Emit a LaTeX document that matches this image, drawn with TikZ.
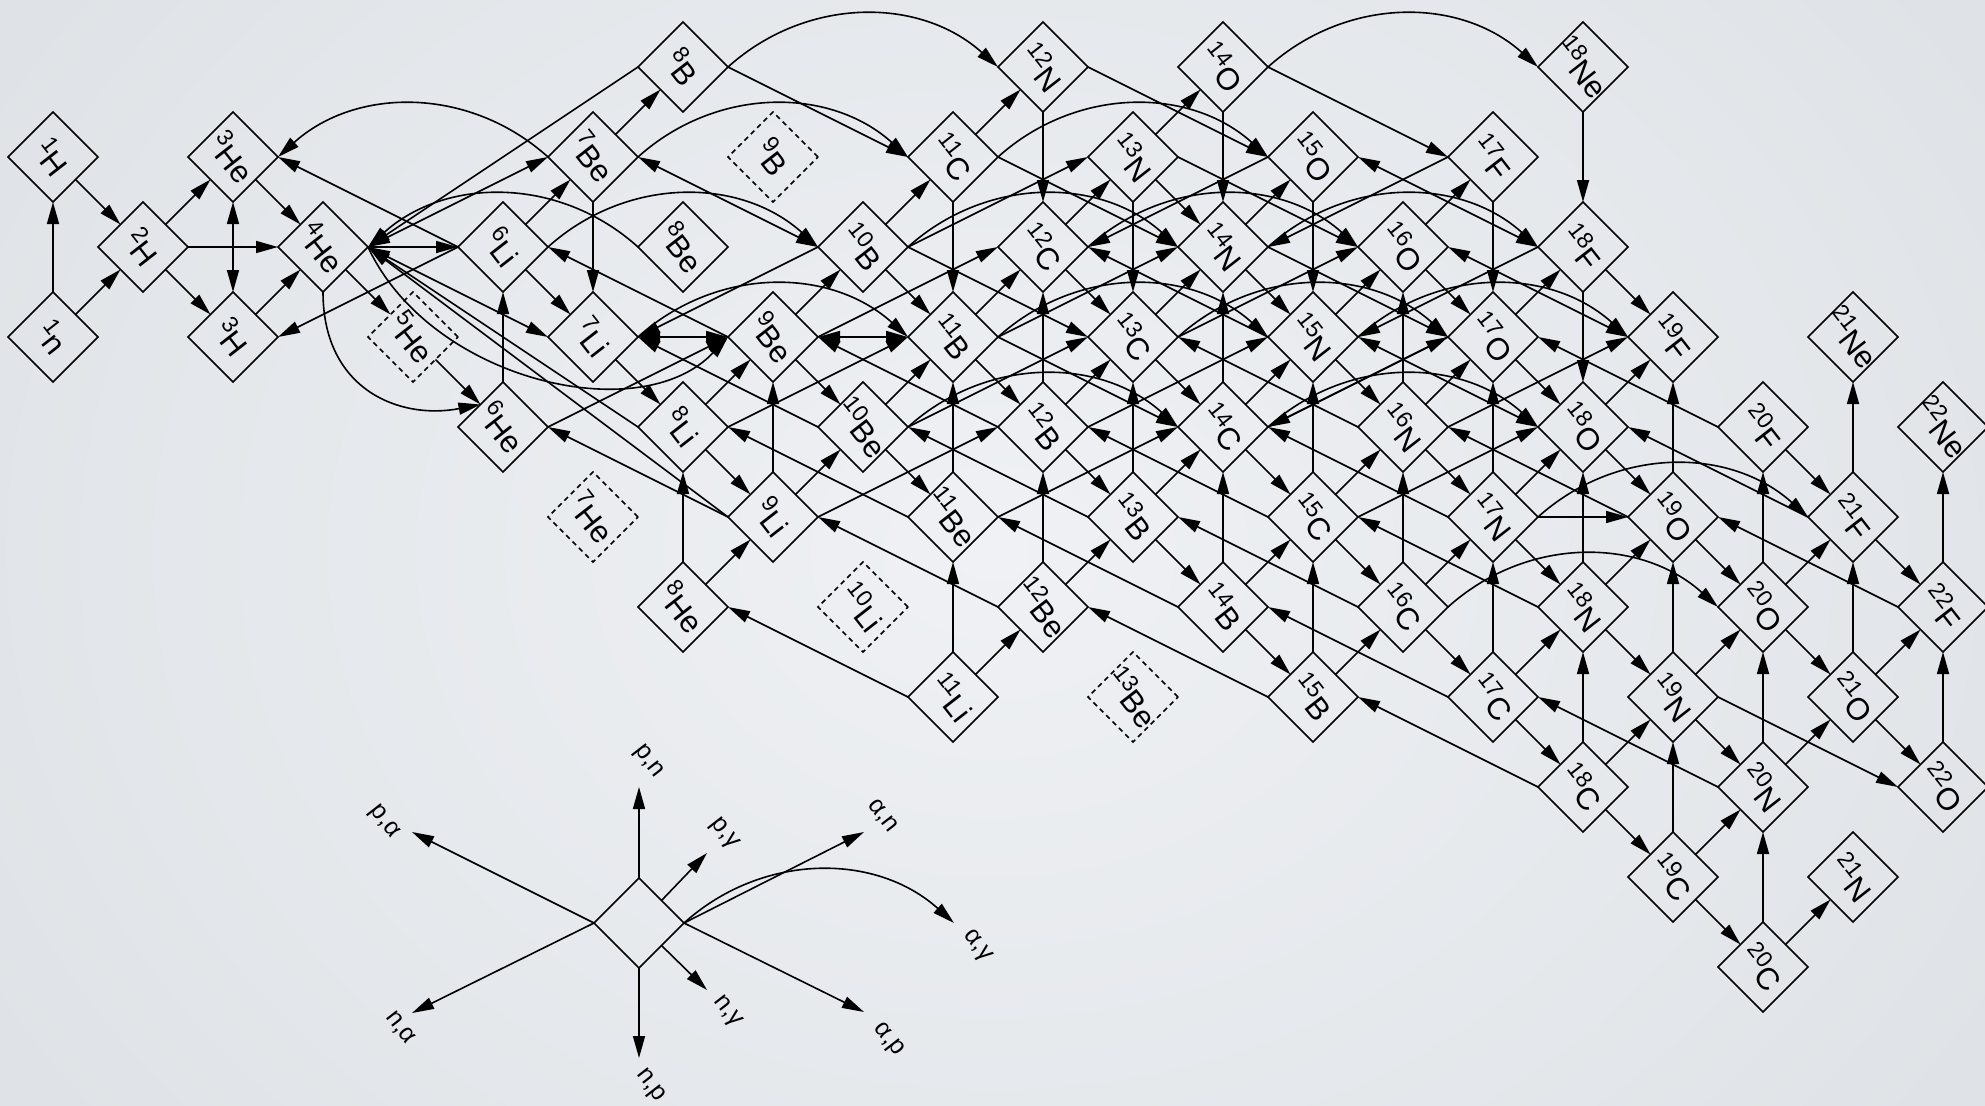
\documentclass[tikz,border=0pt]{standalone}
\usepackage{fontspec}
\setmainfont{Liberation Sans}
\usetikzlibrary{shapes.geometric,arrows.meta}
\pgfdeclarelayer{back}\pgfdeclarelayer{edges}
\pgfsetlayers{back,edges,main}
\definecolor{bgc}{RGB}{233,236,240}
\definecolor{bgin}{RGB}{239,241,244}
\definecolor{bgout}{RGB}{222,226,230}
\tikzset{
 nuc/.style={diamond, draw=black, line width=1.6pt, minimum width=90pt, minimum height=90pt, inner sep=0pt, outer sep=0pt},
 unst/.style={dash pattern=on 5pt off 4pt},
 lbl/.style={rotate=-52, font=\fontsize{31}{31}\selectfont, inner sep=0pt},
 arr/.style={line width=1.6pt, -{Triangle[length=22pt,width=12pt]}},
 darr/.style={line width=1.6pt, {Triangle[length=22pt,width=12pt]}-{Triangle[length=22pt,width=12pt]}},
 arc/.style={arr, bend left=42},
 legl/.style={rotate=-52, font=\fontsize{25}{25}\selectfont, inner sep=0pt},
}
\newcommand\sups[1]{\raisebox{0.40em}{\fontsize{23}{23}\selectfont #1}}
\newcommand\nuc[6][]{\node[nuc,#1,label={[lbl]center:{\sups{#5}#6}}] (#2) at ({53+90*(#3+#4-1)},{247-90*(#3-#4)}) {};}
\begin{document}
\begin{tikzpicture}[x=1pt,y=-1pt]
\useasboundingbox (0,0) rectangle (1985,1105);
\begin{pgfonlayer}{back}
\begin{scope}
\clip (0,0) rectangle (1985,1105);
\fill[bgc] (0,0) rectangle (1985,1105);
\shade[inner color=bgin, outer color=bgout] (-250,-450) rectangle (2235,1555);
\end{scope}
\end{pgfonlayer}
% nuclei
\nuc{n1}{0}{1}{1}{n}
\nuc{H1}{1}{0}{1}{H}
\nuc{H2}{1}{1}{2}{H}
\nuc{H3}{1}{2}{3}{H}
\nuc{He3}{2}{1}{3}{He}
\nuc{He4}{2}{2}{4}{He}
\nuc[unst]{He5}{2}{3}{5}{He}
\nuc{He6}{2}{4}{6}{He}
\nuc[unst]{He7}{2}{5}{7}{He}
\nuc{He8}{2}{6}{8}{He}
\nuc{Li6}{3}{3}{6}{Li}
\nuc{Li7}{3}{4}{7}{Li}
\nuc{Li8}{3}{5}{8}{Li}
\nuc{Li9}{3}{6}{9}{Li}
\nuc[unst]{Li10}{3}{7}{10}{Li}
\nuc{Li11}{3}{8}{11}{Li}
\nuc{Be7}{4}{3}{7}{Be}
\nuc{Be8}{4}{4}{8}{Be}
\nuc{Be9}{4}{5}{9}{Be}
\nuc{Be10}{4}{6}{10}{Be}
\nuc{Be11}{4}{7}{11}{Be}
\nuc{Be12}{4}{8}{12}{Be}
\nuc[unst]{Be13}{4}{9}{13}{Be}
\nuc{B8}{5}{3}{8}{B}
\nuc[unst]{B9}{5}{4}{9}{B}
\nuc{B10}{5}{5}{10}{B}
\nuc{B11}{5}{6}{11}{B}
\nuc{B12}{5}{7}{12}{B}
\nuc{B13}{5}{8}{13}{B}
\nuc{B14}{5}{9}{14}{B}
\nuc{B15}{5}{10}{15}{B}
\nuc{C11}{6}{5}{11}{C}
\nuc{C12}{6}{6}{12}{C}
\nuc{C13}{6}{7}{13}{C}
\nuc{C14}{6}{8}{14}{C}
\nuc{C15}{6}{9}{15}{C}
\nuc{C16}{6}{10}{16}{C}
\nuc{C17}{6}{11}{17}{C}
\nuc{C18}{6}{12}{18}{C}
\nuc{C19}{6}{13}{19}{C}
\nuc{C20}{6}{14}{20}{C}
\nuc{N12}{7}{5}{12}{N}
\nuc{N13}{7}{6}{13}{N}
\nuc{N14}{7}{7}{14}{N}
\nuc{N15}{7}{8}{15}{N}
\nuc{N16}{7}{9}{16}{N}
\nuc{N17}{7}{10}{17}{N}
\nuc{N18}{7}{11}{18}{N}
\nuc{N19}{7}{12}{19}{N}
\nuc{N20}{7}{13}{20}{N}
\nuc{N21}{7}{14}{21}{N}
\nuc{O14}{8}{6}{14}{O}
\nuc{O15}{8}{7}{15}{O}
\nuc{O16}{8}{8}{16}{O}
\nuc{O17}{8}{9}{17}{O}
\nuc{O18}{8}{10}{18}{O}
\nuc{O19}{8}{11}{19}{O}
\nuc{O20}{8}{12}{20}{O}
\nuc{O21}{8}{13}{21}{O}
\nuc{O22}{8}{14}{22}{O}
\nuc{F17}{9}{8}{17}{F}
\nuc{F18}{9}{9}{18}{F}
\nuc{F19}{9}{10}{19}{F}
\nuc{F20}{9}{11}{20}{F}
\nuc{F21}{9}{12}{21}{F}
\nuc{F22}{9}{13}{22}{F}
\nuc{Ne18}{10}{8}{18}{Ne}
\nuc{Ne21}{10}{11}{21}{Ne}
\nuc{Ne22}{10}{12}{22}{Ne}
% legend
\node[nuc] (leg) at (639,923) {};
\coordinate (lpn) at (639,787);
\coordinate (lnp) at (639,1058);
\coordinate (lpg) at (707,853);
\coordinate (lng) at (707,990);
\coordinate (lan) at (864,832);
\coordinate (lap) at (864,1012);
\coordinate (lpa) at (412,832);
\coordinate (lna) at (412,1013);
\coordinate (lag) at (954,923);
\node[legl] (tpn) at (648,762) {p,n};
\node[legl] (tnp) at (650,1086) {n,p};
\node[legl] (tpg) at (724,834) {p,γ};
\node[legl] (tng) at (727,1012) {n,γ};
\node[legl] (tan) at (882,816) {α,n};
\node[legl] (tap) at (888,1040) {α,p};
\node[legl] (tpa) at (384,822) {p,α};
\node[legl] (tna) at (400,1028) {n,α};
\node[legl] (tag) at (977,946) {α,γ};
\begin{pgfonlayer}{edges}
\draw[arr] (leg) -- (lpn);
\draw[arr] (leg) -- (lnp);
\draw[arr] (leg.north east) -- (lpg);
\draw[arr] (leg.south east) -- (lng);
\draw[arr] (leg.east) -- (lan);
\draw[arr] (leg.east) -- (lap);
\draw[arr] (leg.west) -- (lpa);
\draw[arr] (leg.west) -- (lna);
\draw[arc] (leg.east) to (lag);
% light nuclei
\draw[arr] (n1) -- (H1);
\draw[arr] (n1) -- (H2);
\draw[arr] (H1) -- (H2);
\draw[arr] (H2) -- (He3);
\draw[arr] (H2) -- (H3);
\draw[arr] (H2.east) -- (He4.west);
\draw[darr] (He3) -- (H3);
\draw[arr] (He3) -- (He4);
\draw[arr] (H3) -- (He4);
\draw[arr] (He4) -- (He5);
\draw[arr] (He5) -- (He6);
\draw[arr] (He4.south) .. controls (323,390) and (400,420) .. (He6.north west);
\draw[arr] (He6) -- (Li6);
\draw[arr] (Li6.west) -- (He3.east);
\draw[arr] (Li6.west) -- (H3.east);
\draw[arr] (Be7.west) to[bend right=42] (He3.east);
\draw[arr] (He4.east) -- (Li6.west);
\draw[darr] (He4.east) -- (Be7.west);
\draw[darr] (He4.east) -- (Li7.west);
\draw[arr] (Be8.west) to[bend right=42] (He4.east);
\draw[arr] (B8.west) -- (He4.east);
\draw[arr] (Li8.west) -- (He4.east);
\draw[arr] (Li9.west) -- (He4.east);
\draw[arr] (He4.east) .. controls (430,380) and (640,430) .. (Be9.west);
\draw[arr] (Li6) -- (Li7);
\draw[arr] (Li6) -- (Be7);
\draw[arc] (Li6.east) to (B10.west);
\draw[arr] (Be7) -- (B8);
\draw[arr] (Be7) -- (Li7);
\draw[darr] (Be7.east) -- (B10.west);
\draw[arc] (Be7.east) to (C11.west);
\draw[arr] (B8.east) -- (C11.west);
\draw[arc] (B8.east) to (N12.west);
\draw[arr] (Li7) -- (Li8);
\draw[darr] (Li7.east) -- (Be9.west);
\draw[arc] (Li7.east) to (B11.west);
\draw[arr] (B10.west) -- (Li7.east);
\draw[arr] (Be10.west) -- (Li7.east);
\draw[arr] (Li8) -- (Li9);
\draw[arr] (Li8) -- (Be9);
\draw[arr] (Li8.east) -- (B11.west);
\draw[arr] (He8) -- (Li8);
\draw[arr] (He8) -- (Li9);
\draw[arr] (Li9) -- (Be9);
\draw[arr] (Li9) -- (Be10);
\draw[arr] (Li9.east) -- (B12.west);
\draw[arr] (Li9.west) -- (He6.east);
\draw[arr] (Be12.west) -- (Li9.east);
\draw[arr] (He6.east) -- (Be9.west);
\draw[arr] (Li11) -- (Be11);
\draw[arr] (Li11) -- (Be12);
\draw[arr] (Li11.west) -- (He8.east);
% Be
\draw[arr] (Be9) -- (Be10);
\draw[arr] (Be9) -- (B10);
\draw[darr] (Be9.east) -- (B11.west);
\draw[arr] (Be9.east) -- (C12.west);
\draw[arr] (Be9.west) -- (Li6.east);
\draw[arr] (Be10) -- (Be11);
\draw[arr] (Be10) -- (B11);
\draw[arc] (Be10.east) to (C14.west);
\draw[arr] (Be10.east) -- (C13.west);
\draw[arr] (B13.west) -- (Be10.east);
\draw[arr] (Be11) -- (B11);
\draw[arr] (Be11.east) -- (C14.west);
\draw[arr] (Be11.west) -- (Li8.east);
\draw[arr] (B14.west) -- (Be11.east);
\draw[arr] (Be12) -- (B12);
\draw[arr] (Be12) -- (B13);
\draw[arr] (B15.west) -- (Be12.east);
% B
\draw[arr] (B10) -- (C11);
\draw[arr] (B10) -- (B11);
\draw[arr] (B10.east) -- (N13.west);
\draw[arr] (B10.east) -- (C13.west);
\draw[arc] (B10.east) to (N14.west);
\draw[arr] (B11) -- (C12);
\draw[arr] (B11) -- (B12);
\draw[arr] (B11.east) -- (N14.west);
\draw[arr] (B11.east) -- (C14.west);
\draw[arc] (B11.east) to (N15.west);
\draw[arr] (B12) -- (C12);
\draw[arr] (B12) -- (B13);
\draw[arr] (B12) -- (C13);
\draw[arr] (B12.east) -- (N15.west);
\draw[arr] (B12.west) -- (Be9.east);
\draw[arr] (C15.west) -- (B12.east);
\draw[arr] (B13) -- (C13);
\draw[arr] (B13) -- (B14);
\draw[arr] (B13) -- (C14);
\draw[arr] (C16.west) -- (B13.east);
\draw[arr] (B14) -- (C14);
\draw[arr] (B14) -- (B15);
\draw[arr] (B14) -- (C15);
\draw[arr] (C17.west) -- (B14.east);
\draw[arr] (B15) -- (C15);
\draw[arr] (B15) -- (C16);
\draw[arr] (C18.west) -- (B15.east);
% C
\draw[arr] (C11) -- (N12);
\draw[arr] (C11) -- (B11);
\draw[arr] (C11.east) -- (N14.west);
\draw[arc] (C11.east) to (O15.west);
\draw[arr] (C12) -- (N13);
\draw[arr] (C12) -- (C13);
\draw[arc] (C12.east) to (O16.west);
\draw[arr] (O15.west) -- (C12.east);
\draw[arr] (N15.west) -- (C12.east);
\draw[arr] (C13) -- (C14);
\draw[arr] (C13) -- (N14);
\draw[arr] (C13.east) -- (O16.west);
\draw[arc] (C13.east) to (O17.west);
\draw[arr] (N16.west) -- (C13.east);
\draw[arr] (C14) -- (N14);
\draw[arr] (C14) -- (C15);
\draw[arr] (C14) -- (N15);
\draw[arr] (C14.east) -- (O17.west);
\draw[arc] (C14.east) to (O18.west);
\draw[arr] (O17.west) -- (C14.east);
\draw[arr] (N17.west) -- (C14.east);
\draw[arr] (C15) -- (N15);
\draw[arr] (C15) -- (C16);
\draw[arr] (C15) -- (N16);
\draw[arr] (C15.east) -- (O18.west);
\draw[arr] (N18.west) -- (C15.east);
\draw[arr] (C16) -- (N16);
\draw[arr] (C16) -- (C17);
\draw[arr] (C16) -- (N17);
\draw[arc] (C16.east) to (O20.west);
\draw[arr] (C17) -- (N17);
\draw[arr] (C17) -- (C18);
\draw[arr] (C17) -- (N18);
\draw[arr] (N20.west) -- (C17.east);
\draw[arr] (C18) -- (N18);
\draw[arr] (C18) -- (C19);
\draw[arr] (C18) -- (N19);
\draw[arr] (C19) -- (N19);
\draw[arr] (C19) -- (C20);
\draw[arr] (C19) -- (N20);
\draw[arr] (C20) -- (N20);
\draw[arr] (C20) -- (N21);
% N
\draw[arr] (N12) -- (C12);
\draw[arr] (N12.east) -- (O15.west);
\draw[arr] (N13) -- (C13);
\draw[arr] (N13) -- (O14);
\draw[arr] (N13) -- (N14);
\draw[arr] (N13.east) -- (O16.west);
\draw[arr] (N14) -- (O15);
\draw[arr] (N14) -- (N15);
\draw[arc] (N14.east) to (F18.west);
\draw[arr] (F17.west) -- (N14.east);
\draw[arr] (N14.east) -- (O17.west);
\draw[arr] (N15) -- (O16);
\draw[arr] (N15) -- (N16);
\draw[arc] (N15.east) to (F19.west);
\draw[darr] (N15.east) -- (O18.west);
\draw[arr] (F18.west) -- (N15.east);
\draw[arr] (N16) -- (O16);
\draw[arr] (N16) -- (N17);
\draw[arr] (N16) -- (O17);
\draw[arr] (O19.west) -- (N16.east);
\draw[arr] (N16.east) -- (F19.west);
\draw[arr] (N17) -- (O17);
\draw[arr] (N17) -- (N18);
\draw[arr] (N17) -- (O18);
\draw[arr] (N17.east) -- (O19.west);
\draw[arc] (N17.east) to (F21.west);
\draw[arr] (N18) -- (O18);
\draw[arr] (N18) -- (N19);
\draw[arr] (N18) -- (O19);
\draw[arr] (N19) -- (O19);
\draw[arr] (N19) -- (N20);
\draw[arr] (N19) -- (O20);
\draw[arr] (N19.east) -- (O22.west);
\draw[arr] (N20) -- (O20);
\draw[arr] (N20) -- (O21);
% O
\draw[arr] (O14) -- (N14);
\draw[arr] (O14.east) -- (F17.west);
\draw[arc] (O14.east) to (Ne18.west);
\draw[arr] (O15) -- (N15);
\draw[darr] (O15.east) -- (F18.west);
\draw[arr] (O16) -- (O17);
\draw[arr] (O16) -- (F17);
\draw[darr] (O16.east) -- (F19.west);
\draw[arr] (O17) -- (O18);
\draw[arr] (O17) -- (F18);
\draw[arr] (F20.west) -- (O17.east);
\draw[arr] (O18) -- (O19);
\draw[arr] (O18) -- (F19);
\draw[arr] (F21.west) -- (O18.east);
\draw[arr] (O19) -- (F19);
\draw[arr] (O19) -- (O20);
\draw[arr] (F22.west) -- (O19.east);
\draw[arr] (O20) -- (F20);
\draw[arr] (O20) -- (O21);
\draw[arr] (O20) -- (F21);
\draw[arr] (O21) -- (F21);
\draw[arr] (O21) -- (O22);
\draw[arr] (O21) -- (F22);
\draw[arr] (O22) -- (F22);
% F, Ne
\draw[arr] (F17) -- (O17);
\draw[arr] (F18) -- (O18);
\draw[arr] (F18) -- (F19);
\draw[arr] (F20) -- (F21);
\draw[arr] (F21) -- (Ne21);
\draw[arr] (F21) -- (F22);
\draw[arr] (F22) -- (Ne22);
\draw[arr] (Ne18) -- (F18);
\end{pgfonlayer}
\end{tikzpicture}
\end{document}
